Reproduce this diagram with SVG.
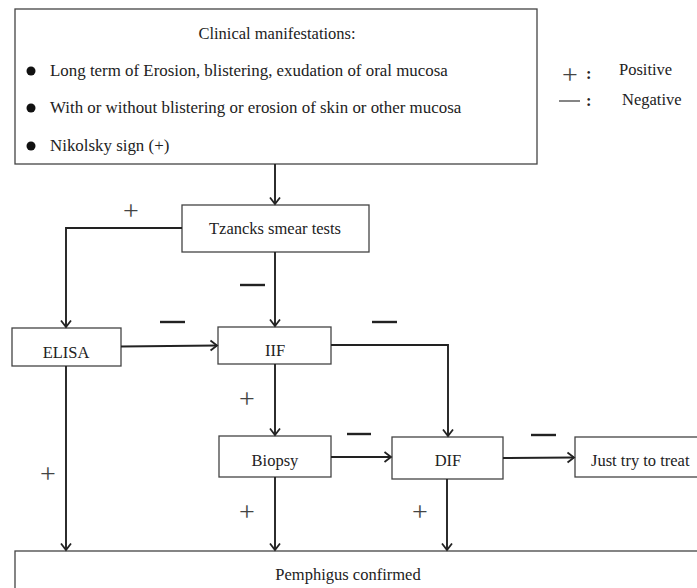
<svg xmlns="http://www.w3.org/2000/svg" width="697" height="588" viewBox="0 0 697 588">
<defs>
<marker id="arr" markerUnits="userSpaceOnUse" markerWidth="14" markerHeight="14" refX="0" refY="0" viewBox="-8 -7 10 14" orient="auto" overflow="visible">
<path d="M-6.5,-5 L0,0 L-6.5,5" fill="none" stroke="#222" stroke-width="1.8"/>
</marker>
<style>
text{font-family:'Liberation Serif','DejaVu Serif',serif}
.box{fill:#fff;stroke:#444;stroke-width:1.3}
.t{font-size:16.5px;fill:#222}
.b{font-size:16.9px}
.c{text-anchor:middle}
.pl{font-size:28px;fill:#444;text-anchor:middle}
.neg{stroke:#222;stroke-width:2.4}
.con{fill:none;stroke:#222;stroke-width:1.9;marker-end:url(#arr)}
</style>
</defs>
<rect width="697" height="588" fill="#fff"/>

<g id="clinical">
<rect class="box" x="15" y="9" width="522" height="155"/>
<text class="t c" x="277" y="39">Clinical manifestations:</text>
<circle cx="31" cy="71" r="4.5" fill="#111"/>
<circle cx="31" cy="108" r="4.5" fill="#111"/>
<circle cx="31" cy="146" r="4.5" fill="#111"/>
<text class="t b" x="50" y="76">Long term of Erosion, blistering, exudation of oral mucosa</text>
<text class="t b" x="50" y="113">With or without blistering or erosion of skin or other mucosa</text>
<text class="t b" x="50" y="151">Nikolsky sign (+)</text>
</g>

<g id="legend">
<text class="pl" x="570" y="84">+</text>
<text class="t" x="586" y="79" font-weight="bold">:</text>
<text class="t" x="619" y="75">Positive</text>
<line x1="559" y1="101" x2="580" y2="101" stroke="#333" stroke-width="1.2"/>
<text class="t" x="586" y="106" font-weight="bold">:</text>
<text class="t" x="622" y="105">Negative</text>
</g>

<g id="tzancks">
<rect class="box" x="182" y="205" width="187" height="47"/>
<text class="t c" x="275" y="234">Tzancks smear tests</text>
</g>
<g id="elisa">
<rect class="box" x="12" y="328" width="109" height="38"/>
<text class="t c" x="66" y="358">ELISA</text>
</g>
<g id="iif">
<rect class="box" x="218" y="327" width="113" height="37"/>
<text class="t c" x="275" y="356">IIF</text>
</g>
<g id="biopsy">
<rect class="box" x="219" y="436" width="112" height="41"/>
<text class="t c" x="275" y="466">Biopsy</text>
</g>
<g id="dif">
<rect class="box" x="392" y="437" width="111" height="42"/>
<text class="t c" x="448" y="466">DIF</text>
</g>
<g id="treat">
<rect class="box" x="575" y="437" width="130" height="40"/>
<text class="t" x="591" y="466">Just try to treat</text>
</g>
<g id="confirmed">
<rect class="box" x="15" y="551" width="700" height="60"/>
<text class="t c" x="348" y="580">Pemphigus confirmed</text>
</g>

<g id="connectors">
<path class="con" d="M275,164 L275,204"/>
<path class="con" d="M182,228 L66,228 L66,327"/>
<path class="con" d="M275,252 L275,326"/>
<path class="con" d="M121,346.5 L217,345.5"/>
<path class="con" d="M331,345 L448,345 L448,436"/>
<path class="con" d="M275,364 L275,435"/>
<path class="con" d="M331,457 L391,457"/>
<path class="con" d="M503,458 L574,457.5"/>
<path class="con" d="M66,366 L66,550"/>
<path class="con" d="M275,477 L275,550"/>
<path class="con" d="M447,479 L447,550"/>
</g>

<g id="labels">
<text class="pl" x="131" y="220">+</text>
<line class="neg" x1="240" y1="285" x2="265" y2="285"/>
<line class="neg" x1="160" y1="322" x2="185" y2="322"/>
<line class="neg" x1="372" y1="322" x2="397" y2="322"/>
<text class="pl" x="247" y="408">+</text>
<line class="neg" x1="347" y1="434" x2="371" y2="434"/>
<line class="neg" x1="531" y1="435" x2="556" y2="435"/>
<text class="pl" x="48" y="483">+</text>
<text class="pl" x="247" y="521">+</text>
<text class="pl" x="420" y="521">+</text>
</g>
</svg>
